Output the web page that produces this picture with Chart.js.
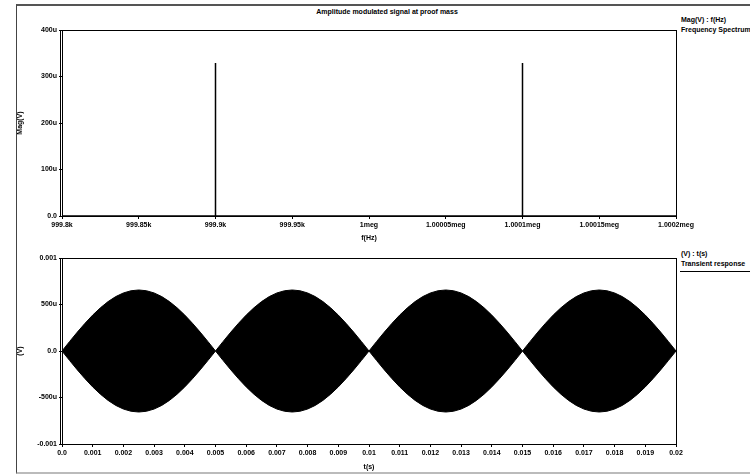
<!DOCTYPE html>
<html>
<head>
<meta charset="utf-8">
<script src="https://cdn.jsdelivr.net/npm/chart.js@4.4.1/dist/chart.umd.min.js"></script>
<style>
  body { margin: 0; width: 750px; height: 474px; background: #fff; position: relative; overflow: hidden;
         font-family: "Liberation Sans", Arial, sans-serif; }
  #frame { position: absolute; left: 16px; top: 4px; width: 760px; height: 466px;
           border-left: 1px solid #444; border-top: 2px solid #555; border-bottom: 2px solid #bbb; }
  .txt { position: absolute; font-size: 7px; font-weight: bold; white-space: nowrap; color: #000; line-height: 8px; }
  canvas { position: absolute; left: 0; }
</style>
</head>
<body>
<div id="frame"></div>
<div class="txt" style="left:387px; top:8px; transform:translateX(-50%);">Amplitude modulated signal at proof mass</div>
<div class="txt" style="left:681px; top:16px;">Mag(V) : f(Hz)</div>
<div class="txt" style="left:681px; top:26px;">Frequency Spectrum</div>
<div class="txt" style="left:681px; top:250px;">(V) : t(s)</div>
<div class="txt" style="left:681px; top:260px;">Transient response</div>
<div style="position:absolute; left:680px; top:271px; width:70px; height:1px; background:#000;"></div>
<canvas id="spec" width="750" height="245" style="top:0"></canvas>
<canvas id="trans" width="750" height="229" style="top:245px"></canvas>
<script>
// frequency spectrum (magnitude in uV)
const freqHz = [999800, 999900, 999900, 999900, 1000100, 1000100, 1000100, 1000200];
const magUV  = [0, 0, 329, 0, 0, 329, 0, 0];
const freqTickLabels = ["999.8k", "999.85k", "999.9k", "999.95k", "1meg", "1.00005meg", "1.0001meg", "1.00015meg", "1.0002meg"];
const magTickLabels = ["0.0", "100u", "200u", "300u", "400u"];

// transient response envelope (uV), sampled every 0.25 ms
const timeS = [0, 0.00025, 0.0005, 0.00075, 0.001, 0.00125, 0.0015, 0.00175, 0.002, 0.00225,
               0.0025, 0.00275, 0.003, 0.00325, 0.0035, 0.00375, 0.004, 0.00425, 0.0045, 0.00475,
               0.005, 0.00525, 0.0055, 0.00575, 0.006, 0.00625, 0.0065, 0.00675, 0.007, 0.00725,
               0.0075, 0.00775, 0.008, 0.00825, 0.0085, 0.00875, 0.009, 0.00925, 0.0095, 0.00975,
               0.01, 0.01025, 0.0105, 0.01075, 0.011, 0.01125, 0.0115, 0.01175, 0.012, 0.01225,
               0.0125, 0.01275, 0.013, 0.01325, 0.0135, 0.01375, 0.014, 0.01425, 0.0145, 0.01475,
               0.015, 0.01525, 0.0155, 0.01575, 0.016, 0.01625, 0.0165, 0.01675, 0.017, 0.01725,
               0.0175, 0.01775, 0.018, 0.01825, 0.0185, 0.01875, 0.019, 0.01925, 0.0195, 0.01975, 0.02];
const upperUV = [0, 103, 203, 298, 386, 464, 531, 585, 624, 648,
                 656, 648, 624, 585, 531, 464, 386, 298, 203, 103,
                 0, 103, 203, 298, 386, 464, 531, 585, 624, 648,
                 656, 648, 624, 585, 531, 464, 386, 298, 203, 103,
                 0, 103, 203, 298, 386, 464, 531, 585, 624, 648,
                 656, 648, 624, 585, 531, 464, 386, 298, 203, 103,
                 0, 103, 203, 298, 386, 464, 531, 585, 624, 648,
                 656, 648, 624, 585, 531, 464, 386, 298, 203, 103, 0];
const lowerUV = [0, -103, -203, -298, -386, -464, -531, -585, -624, -648,
                 -656, -648, -624, -585, -531, -464, -386, -298, -203, -103,
                 0, -103, -203, -298, -386, -464, -531, -585, -624, -648,
                 -656, -648, -624, -585, -531, -464, -386, -298, -203, -103,
                 0, -103, -203, -298, -386, -464, -531, -585, -624, -648,
                 -656, -648, -624, -585, -531, -464, -386, -298, -203, -103,
                 0, -103, -203, -298, -386, -464, -531, -585, -624, -648,
                 -656, -648, -624, -585, -531, -464, -386, -298, -203, -103, 0];
const timeTickLabels = ["0.0", "0.001", "0.002", "0.003", "0.004", "0.005", "0.006", "0.007", "0.008", "0.009", "0.01",
                        "0.011", "0.012", "0.013", "0.014", "0.015", "0.016", "0.017", "0.018", "0.019", "0.02"];
const voltTickLabels = ["-0.001", "-500u", "0.0", "500u", "0.001"];

const tickFont = { family: "Liberation Sans", size: 7, weight: "bold" };

// plot box, with the doubled left axis line
const boxPlugin = {
  id: "box",
  afterDraw(chart) {
    const { ctx, chartArea: a } = chart;
    ctx.save();
    ctx.strokeStyle = "#000";
    ctx.lineWidth = 1;
    ctx.strokeRect(a.left + 0.5, a.top + 0.5, a.right - a.left, a.bottom - a.top);
    ctx.beginPath();
    ctx.moveTo(a.left - 1.5, a.top);
    ctx.lineTo(a.left - 1.5, a.bottom + 1);
    ctx.stroke();
    ctx.restore();
  }
};

function axis(min, max, step, labels, title, size, titlePad) {
  return {
    type: "linear",
    min: min,
    max: max,
    ticks: {
      stepSize: step,
      autoSkip: false,
      maxRotation: 0,
      color: "#000",
      font: tickFont,
      padding: 2,
      callback: (v, i) => labels[i]
    },
    grid: { drawOnChartArea: false, drawTicks: true, tickLength: 3, color: "#000" },
    border: { display: true, color: "#000", width: 1 },
    title: { display: true, text: title, color: "#000", font: tickFont, padding: titlePad },
    afterFit: size
  };
}

const baseOptions = {
  responsive: false,
  animation: false,
  plugins: { legend: { display: false }, tooltip: { enabled: false } },
  elements: { point: { radius: 0 }, line: { tension: 0 } }
};

new Chart(document.getElementById("spec"), {
  type: "scatter",
  data: {
    datasets: [{
      data: freqHz.map((f, i) => ({ x: f, y: magUV[i] })),
      showLine: true,
      borderColor: "#000",
      borderWidth: 1.5,
      pointRadius: 0
    }]
  },
  options: {
    ...baseOptions,
    layout: { padding: { left: 16, right: 74, top: 30, bottom: 0 } },
    scales: {
      x: axis(999800, 1000200, 50, freqTickLabels, "f(Hz)", s => { s.height = 29; }, { top: 0, bottom: 3 }),
      y: axis(0, 400, 100, magTickLabels, "Mag(V)", s => { s.width = 46; }, 0)
    }
  },
  plugins: [boxPlugin]
});

new Chart(document.getElementById("trans"), {
  type: "line",
  data: {
    datasets: [
      {
        data: timeS.map((t, i) => ({ x: t, y: upperUV[i] })),
        borderColor: "#000",
        backgroundColor: "#000",
        borderWidth: 1,
        fill: "+1"
      },
      {
        data: timeS.map((t, i) => ({ x: t, y: lowerUV[i] })),
        borderColor: "#000",
        borderWidth: 1,
        fill: false
      }
    ]
  },
  options: {
    ...baseOptions,
    layout: { padding: { left: 16, right: 74, top: 13, bottom: 0 } },
    scales: {
      x: axis(0, 0.02, 0.001, timeTickLabels, "t(s)", s => { s.height = 30; }, { top: 0, bottom: 3 }),
      y: axis(-1000, 1000, 500, voltTickLabels, "(V)", s => { s.width = 46; }, 0)
    }
  },
  plugins: [boxPlugin]
});
</script>
</body>
</html>
